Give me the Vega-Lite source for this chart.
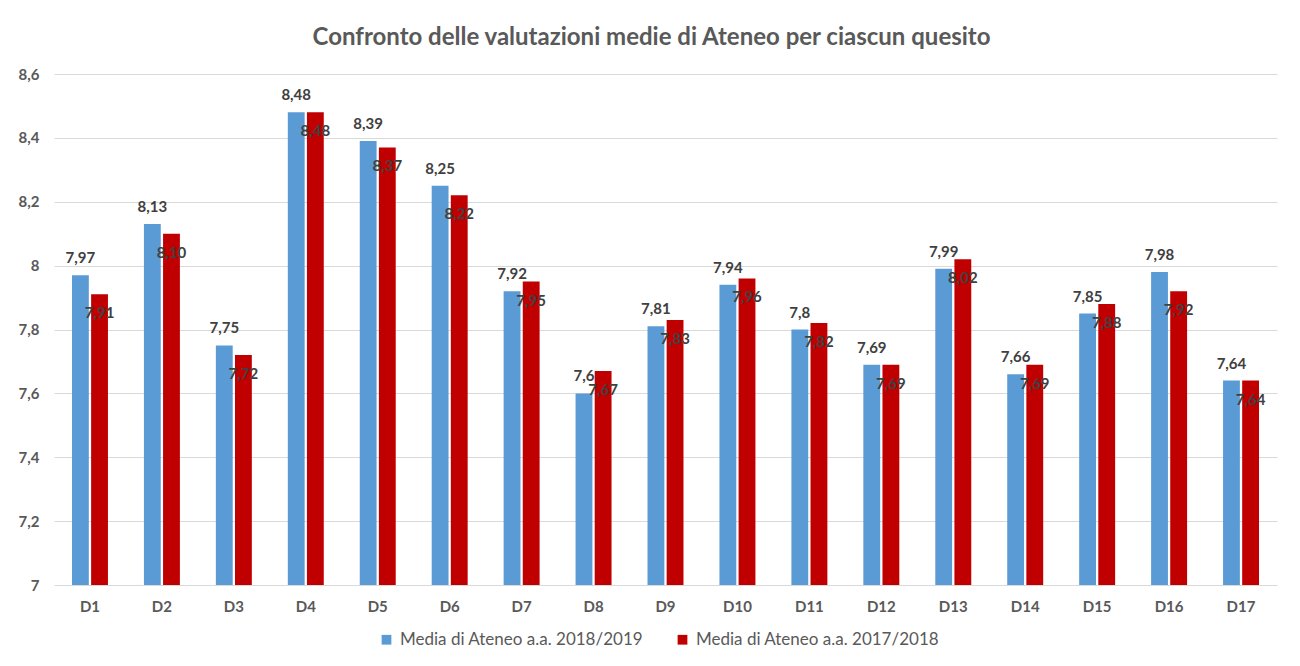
{
  "$schema": "https://vega.github.io/schema/vega-lite/v6.json",
  "width": 1223,
  "height": 511,
  "autosize": {"type": "none"},
  "padding": {"left": 54, "top": 74, "right": 23, "bottom": 81},
  "background": "white",
  "title": {
    "text": "Confronto delle valutazioni medie di Ateneo per ciascun quesito",
    "font": "Lato",
    "fontSize": 24,
    "fontWeight": "bold",
    "color": "#595959",
    "anchor": "middle",
    "offset": 17,
    "dx": -14
  },
  "data": {
    "values": [
      {"q": "D1", "s": "Media di Ateneo a.a. 2018/2019", "v": 7.97},
      {"q": "D1", "s": "Media di Ateneo a.a. 2017/2018", "v": 7.91},
      {"q": "D2", "s": "Media di Ateneo a.a. 2018/2019", "v": 8.13},
      {"q": "D2", "s": "Media di Ateneo a.a. 2017/2018", "v": 8.10},
      {"q": "D3", "s": "Media di Ateneo a.a. 2018/2019", "v": 7.75},
      {"q": "D3", "s": "Media di Ateneo a.a. 2017/2018", "v": 7.72},
      {"q": "D4", "s": "Media di Ateneo a.a. 2018/2019", "v": 8.48},
      {"q": "D4", "s": "Media di Ateneo a.a. 2017/2018", "v": 8.48},
      {"q": "D5", "s": "Media di Ateneo a.a. 2018/2019", "v": 8.39},
      {"q": "D5", "s": "Media di Ateneo a.a. 2017/2018", "v": 8.37},
      {"q": "D6", "s": "Media di Ateneo a.a. 2018/2019", "v": 8.25},
      {"q": "D6", "s": "Media di Ateneo a.a. 2017/2018", "v": 8.22},
      {"q": "D7", "s": "Media di Ateneo a.a. 2018/2019", "v": 7.92},
      {"q": "D7", "s": "Media di Ateneo a.a. 2017/2018", "v": 7.95},
      {"q": "D8", "s": "Media di Ateneo a.a. 2018/2019", "v": 7.6},
      {"q": "D8", "s": "Media di Ateneo a.a. 2017/2018", "v": 7.67},
      {"q": "D9", "s": "Media di Ateneo a.a. 2018/2019", "v": 7.81},
      {"q": "D9", "s": "Media di Ateneo a.a. 2017/2018", "v": 7.83},
      {"q": "D10", "s": "Media di Ateneo a.a. 2018/2019", "v": 7.94},
      {"q": "D10", "s": "Media di Ateneo a.a. 2017/2018", "v": 7.96},
      {"q": "D11", "s": "Media di Ateneo a.a. 2018/2019", "v": 7.8},
      {"q": "D11", "s": "Media di Ateneo a.a. 2017/2018", "v": 7.82},
      {"q": "D12", "s": "Media di Ateneo a.a. 2018/2019", "v": 7.69},
      {"q": "D12", "s": "Media di Ateneo a.a. 2017/2018", "v": 7.69},
      {"q": "D13", "s": "Media di Ateneo a.a. 2018/2019", "v": 7.99},
      {"q": "D13", "s": "Media di Ateneo a.a. 2017/2018", "v": 8.02},
      {"q": "D14", "s": "Media di Ateneo a.a. 2018/2019", "v": 7.66},
      {"q": "D14", "s": "Media di Ateneo a.a. 2017/2018", "v": 7.69},
      {"q": "D15", "s": "Media di Ateneo a.a. 2018/2019", "v": 7.85},
      {"q": "D15", "s": "Media di Ateneo a.a. 2017/2018", "v": 7.88},
      {"q": "D16", "s": "Media di Ateneo a.a. 2018/2019", "v": 7.98},
      {"q": "D16", "s": "Media di Ateneo a.a. 2017/2018", "v": 7.92},
      {"q": "D17", "s": "Media di Ateneo a.a. 2018/2019", "v": 7.64},
      {"q": "D17", "s": "Media di Ateneo a.a. 2017/2018", "v": 7.64}
    ]
  },
  "encoding": {
    "x": {
      "field": "q",
      "type": "nominal",
      "sort": null,
      "scale": {"paddingInner": 0.5, "paddingOuter": 0.25},
      "axis": {
        "title": null,
        "labelAngle": 0,
        "labelFont": "Lato",
        "labelFontSize": 15,
        "labelFontWeight": "bold",
        "labelColor": "#595959",
        "labelPadding": 14,
        "ticks": false,
        "domain": false,
        "grid": false
      }
    },
    "xOffset": {
      "field": "s",
      "type": "nominal",
      "sort": ["Media di Ateneo a.a. 2018/2019", "Media di Ateneo a.a. 2017/2018"],
      "scale": {"paddingInner": 0.12}
    },
    "y": {
      "field": "v",
      "type": "quantitative",
      "scale": {"domain": [7, 8.6], "nice": false, "zero": false},
      "axis": {
        "title": null,
        "values": [7, 7.2, 7.4, 7.6, 7.8, 8, 8.2, 8.4, 8.6],
        "format": "~g",
        "labelFont": "Lato",
        "labelFontSize": 15,
        "labelFontWeight": "bold",
        "labelColor": "#595959",
        "labelPadding": 15,
        "ticks": false,
        "domain": false,
        "grid": true,
        "gridColor": "#D9D9D9",
        "gridWidth": 1
      }
    }
  },
  "layer": [
    {
      "mark": {"type": "bar", "clip": true},
      "encoding": {
        "color": {
          "field": "s",
          "type": "nominal",
          "scale": {
            "domain": ["Media di Ateneo a.a. 2018/2019", "Media di Ateneo a.a. 2017/2018"],
            "range": ["#5B9BD5", "#C00000"]
          },
          "legend": {
            "title": null,
            "orient": "none",
            "direction": "horizontal",
            "legendX": 324,
            "legendY": 557,
            "symbolType": "square",
            "symbolSize": 95,
            "symbolStrokeWidth": 0,
            "labelFont": "Lato",
            "labelFontSize": 17,
            "labelColor": "#595959",
            "labelOffset": 5,
            "labelLimit": 0,
            "columnPadding": 30
          }
        }
      }
    },
    {
      "transform": [{"filter": "datum.s == 'Media di Ateneo a.a. 2018/2019'"}],
      "mark": {"type": "text", "baseline": "middle", "dy": -17, "font": "Lato", "fontSize": 15, "fontWeight": "bold", "color": "#404040"},
      "encoding": {"text": {"field": "v", "type": "quantitative", "format": "~g"}}
    },
    {
      "transform": [{"filter": "datum.s == 'Media di Ateneo a.a. 2017/2018'"}],
      "mark": {"type": "text", "baseline": "middle", "dy": 19, "font": "Lato", "fontSize": 15, "fontWeight": "bold", "color": "#404040"},
      "encoding": {"text": {"field": "v", "type": "quantitative", "format": ".2f"}}
    }
  ],
  "config": {
    "view": {"stroke": null},
    "locale": {
      "number": {"decimal": ",", "thousands": ".", "grouping": [3], "currency": ["€", ""]}
    }
  }
}
